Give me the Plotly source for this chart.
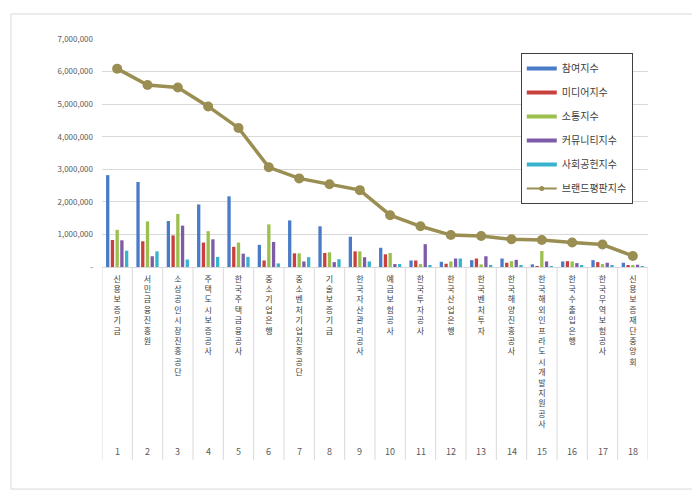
import plotly.graph_objects as go

names = ["신용보증기금", "서민금융진흥원", "소상공인시장진흥공단", "주택도시보증공사", "한국주택금융공사",
         "중소기업은행", "중소벤처기업진흥공단", "기술보증기금", "한국자산관리공사", "예금보험공사",
         "한국투자공사", "한국산업은행", "한국벤처투자", "한국해양진흥공사", "한국해외인프라도시개발지원공사",
         "한국수출입은행", "한국무역보험공사", "신용보증재단중앙회"]
ranks = list(range(1, 19))

participation = [2820000, 2610000, 1410000, 1920000, 2170000, 680000, 1430000, 1250000, 930000, 590000,
                 200000, 160000, 210000, 260000, 80000, 170000, 210000, 130000]
media = [830000, 790000, 970000, 750000, 620000, 200000, 420000, 430000, 480000, 390000,
         200000, 100000, 260000, 130000, 30000, 180000, 150000, 50000]
communication = [1140000, 1400000, 1630000, 1100000, 750000, 1310000, 420000, 450000, 480000, 430000,
                 90000, 170000, 80000, 180000, 490000, 170000, 90000, 50000]
community = [820000, 330000, 1270000, 850000, 410000, 770000, 170000, 150000, 300000, 90000,
             700000, 260000, 330000, 220000, 170000, 120000, 130000, 70000]
social = [500000, 480000, 230000, 310000, 310000, 110000, 300000, 240000, 170000, 90000,
          50000, 260000, 40000, 50000, 20000, 60000, 50000, 20000]
brand = [6090000, 5590000, 5510000, 4930000, 4270000, 3060000, 2720000, 2540000, 2360000, 1590000,
         1250000, 980000, 950000, 850000, 830000, 750000, 690000, 340000]

y_ticks = [0, 1000000, 2000000, 3000000, 4000000, 5000000, 6000000, 7000000]
y_ticktext = ["-" if v == 0 else f"{v:,}" for v in y_ticks]

bar_series = [
    ("참여지수", participation, "#4A7BC8"),
    ("미디어지수", media, "#C8413C"),
    ("소통지수", communication, "#9CC04E"),
    ("커뮤니티지수", community, "#7E5BA8"),
    ("사회공헌지수", social, "#38B3CE"),
]
line_color = "#9A8E52"

fig = go.Figure()
for nm, vals, col in bar_series:
    fig.add_trace(go.Bar(x=ranks, y=vals, name=nm, marker=dict(color=col, line=dict(width=0)),
                         showlegend=False, legendgroup=nm))
fig.add_trace(go.Scatter(x=ranks, y=brand, name="브랜드평판지수", mode="lines+markers",
                         line=dict(color=line_color, width=3.5),
                         marker=dict(color=line_color, size=10), showlegend=False,
                         legendgroup="브랜드평판지수"))

# legend entries (thin swatches like the reference)
for nm, vals, col in bar_series:
    fig.add_trace(go.Scatter(x=[None], y=[None], name=nm, mode="lines",
                             line=dict(color=col, width=4), legendgroup=nm, showlegend=True))
fig.add_trace(go.Scatter(x=[None], y=[None], name="브랜드평판지수", mode="lines+markers",
                         line=dict(color=line_color, width=2), marker=dict(color=line_color, size=5),
                         legendgroup="브랜드평판지수", showlegend=True))

shapes = []
for i in range(19):
    shapes.append(dict(type="line", xref="x", yref="paper", x0=0.5 + i, x1=0.5 + i, y0=0, y1=-0.846,
                       line=dict(color="#D9D9D9", width=1)))
shapes.append(dict(type="rect", xref="paper", yref="paper", x0=-0.1667, x1=1.086, y0=-0.974, y1=1.1096,
                   line=dict(color="#D9D9D9", width=1), layer="below"))

annotations = []
for r in ranks:
    annotations.append(dict(x=r, y=-0.811, xref="x", yref="paper", text=str(r), showarrow=False,
                            font=dict(size=9, color="#595959"), yanchor="middle"))

fig.update_layout(
    width=692, height=486,
    margin=dict(l=94, r=52, t=31, b=227),
    paper_bgcolor="white", plot_bgcolor="white",
    font=dict(family="Noto Sans CJK KR", color="#404040"),
    barmode="group", bargap=0.22, bargroupgap=0.3,
    xaxis=dict(range=[0.5, 18.5], tickvals=ranks, ticktext=["<br>".join(n) for n in names],
               tickfont=dict(size=8, color="#404040"), showgrid=False, ticks="",
               showline=True, linecolor="#D9D9D9", linewidth=1, zeroline=False, ticklabelstandoff=4),
    yaxis=dict(range=[0, 7000000], tickvals=y_ticks, ticktext=y_ticktext,
               tickfont=dict(size=8, color="#595959"), showgrid=True, gridcolor="#D9D9D9",
               gridwidth=1, zeroline=False, ticks="", showline=False, ticklabelstandoff=8),
    legend=dict(x=0.767, y=0.9386, xanchor="left", yanchor="top", bgcolor="white",
                bordercolor="#404040", borderwidth=1, font=dict(size=10, color="#404040"),
                tracegroupgap=5, itemwidth=30),
    shapes=shapes, annotations=annotations,
)

fig.write_html("out.html")
